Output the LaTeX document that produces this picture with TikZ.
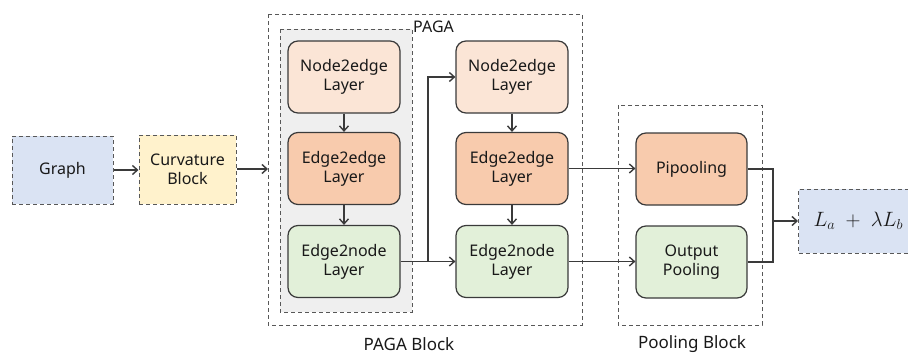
\documentclass[tikz,border=0pt]{standalone}
\usepackage{fontspec}
\setmainfont{Noto Sans}
\usetikzlibrary{arrows.meta}
\definecolor{blueF}{HTML}{DAE3F3}
\definecolor{yellowF}{HTML}{FFF2CC}
\definecolor{peachF}{HTML}{FBE5D6}
\definecolor{orangeF}{HTML}{F8CBAD}
\definecolor{greenF}{HTML}{E2F0D9}
\definecolor{grayF}{HTML}{EFEFEF}
\definecolor{lineC}{HTML}{3A3A3A}
\tikzset{
  every node/.style={font=\fontsize{16}{19}\selectfont, align=center, text=black!90},
  dashbox/.style={draw=lineC!85, dashed, dash pattern=on 4pt off 3pt, line width=1pt, inner sep=0pt},
  layer/.style={draw=lineC, line width=1.2pt, rounded corners=10pt, minimum width=112pt, minimum height=72pt, inner sep=0pt},
  conn/.style={draw=lineC, line width=1.4pt},
  arr/.style={conn, -{Straight Barb[length=5pt,width=9pt]}},
  blocklabel/.style={font=\fontsize{17}{20}\selectfont}
}
\begin{document}
\begin{tikzpicture}[x=1pt,y=-1pt]
\useasboundingbox (0,0) rectangle (908,356);
\begin{scope}
\clip (0,0) rectangle (908,356);
% outer groups
\draw[dashbox] (268,14) rectangle (582,325);
\draw[dashbox, fill=grayF] (280,29) rectangle (412,312);
\node[anchor=west, inner sep=1pt] (pagalabel) at (412,27) {PAGA};
\draw[dashbox] (618,105) rectangle (762,325);
\node[blocklabel] (pagablock) at (409,344) {PAGA Block};
\node[blocklabel] (poolblock) at (692,344) {Pooling Block};

% inputs
\node[dashbox, fill=blueF, minimum width=101pt, minimum height=68pt] (graph) at (62.5,170) {Graph};
\node[dashbox, fill=yellowF, minimum width=97pt, minimum height=69pt] (curv) at (187.5,169.5) {Curvature\\Block};
\coordinate (pagain) at (268,169);

% PAGA layers
\node[layer, fill=peachF] (ne1) at (344,77) {Node2edge\\Layer};
\node[layer, fill=orangeF] (ee1) at (344,168.5) {Edge2edge\\Layer};
\node[layer, fill=greenF] (en1) at (344,261.5) {Edge2node\\Layer};
\node[layer, fill=peachF] (ne2) at (512,77) {Node2edge\\Layer};
\node[layer, fill=orangeF] (ee2) at (512,168.5) {Edge2edge\\Layer};
\node[layer, fill=greenF] (en2) at (512,261.5) {Edge2node\\Layer};

% pooling
\node[layer, fill=orangeF, minimum width=111pt] (pip) at (691.5,169) {Pipooling};
\node[layer, fill=greenF, minimum width=111pt] (outp) at (691.5,262) {Output\\Pooling};

% loss
\node[dashbox, fill=blueF, minimum width=114pt, minimum height=64pt, anchor=west, text width=112pt, align=left] (loss) at (798,221)
  {\fontsize{20}{24}\selectfont\hspace{14pt}$L_a\;+\;\lambda L_b$};

% connectors
\draw[arr] (graph.east) -- (curv.west |- graph.east);
\draw[arr] (curv.east |- pagain) -- (pagain);
\draw[arr] (ne1) -- (ee1);
\draw[arr] (ee1) -- (en1);
\draw[arr] (ne2) -- (ee2);
\draw[arr] (ee2) -- (en2);
\draw[arr] (en1.east) -- (en2.west);
\coordinate (split) at (428,261.5);
\draw[arr] (split) |- (ne2.west);
\draw[arr] (ee2.east) -- (pip.west |- ee2.east);
\draw[arr] (en2.east) -- (outp.west |- en2.east);
\coordinate (merge) at (773,221);
\draw[conn] (pip.east) -| (merge);
\draw[conn] (outp.east) -| (merge);
\draw[arr] (merge) -- (loss.west);
\end{scope}
\end{tikzpicture}
\end{document}
